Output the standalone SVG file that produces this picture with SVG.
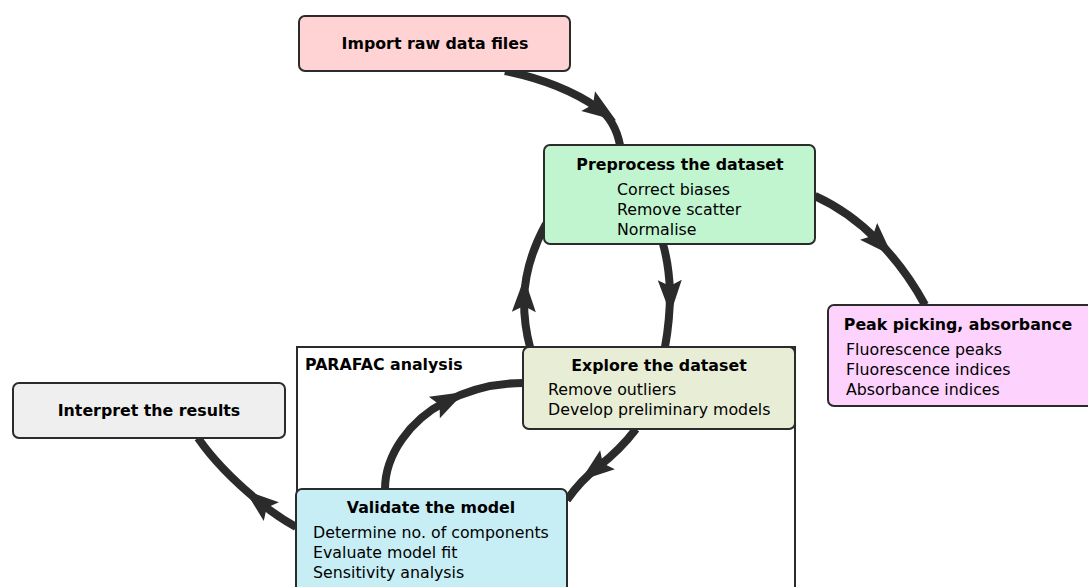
<svg xmlns="http://www.w3.org/2000/svg" width="1088" height="587" viewBox="0 0 1088 587">
<style>
  .box { stroke: #2b2b2b; stroke-width: 2; }
  .title { font-family: "DejaVu Sans", sans-serif; font-size: 15.8px; font-weight: bold; fill: #000; text-anchor: middle; }
  .body { font-family: "DejaVu Sans", sans-serif; font-size: 15.8px; fill: #000; }
  .conn { fill: none; stroke: #2b2b2b; stroke-width: 8; marker-mid: url(#arr); }
</style>
<defs>
  <marker id="arr" markerUnits="userSpaceOnUse" markerWidth="60" markerHeight="60" refX="0" refY="0" orient="auto" overflow="visible" viewBox="-30 -30 60 60">
    <path d="M22,0 L-12,-12 L-6,0 L-12,12 Z" fill="#2b2b2b"/>
  </marker>
</defs>
<rect width="1088" height="587" fill="#fff"/>
<g id="parafac">
  <rect x="297" y="347" width="498" height="250" fill="#fff" stroke="#2b2b2b" stroke-width="2"/>
  <text x="305" y="370" class="title" style="text-anchor:start">PARAFAC analysis</text>
</g>
<g id="connectors">
  <path class="conn" d="M505,71 Q560,82 598,108 Q615,120 620,145"/>
  <path class="conn" d="M815,196 Q850,212 877,240 Q905,268 925,305"/>
  <path class="conn" d="M663,244 Q669,265 670,292 Q670,320 665,347"/>
  <path class="conn" d="M530,347 Q524,325 524,300 Q525,262 546,224"/>
  <path class="conn" d="M636,429 Q620,450 598,467 Q580,481 567,500"/>
  <path class="conn" d="M385,489 C385,455 410,420 445,402 C470,389 495,383 523,383"/>
  <path class="conn" d="M296,527 Q278,517 262,504 Q220,470 198,438"/>
</g>
<g id="import">
  <rect class="box" x="299" y="16" width="271" height="55" rx="6" fill="#ffd3d3"/>
  <text x="435" y="49" class="title">Import raw data files</text>
</g>
<g id="preprocess">
  <rect class="box" x="544" y="145" width="271" height="99" rx="6" fill="#c0f5d0"/>
  <text x="680" y="170" class="title">Preprocess the dataset</text>
  <text x="617" y="195" class="body">Correct biases</text>
  <text x="617" y="215" class="body">Remove scatter</text>
  <text x="617" y="235" class="body">Normalise</text>
</g>
<g id="peak">
  <rect class="box" x="828" y="305" width="272" height="101" rx="6" fill="#fdd2fd"/>
  <text x="958" y="330" class="title">Peak picking, absorbance</text>
  <text x="846" y="355" class="body">Fluorescence peaks</text>
  <text x="846" y="375" class="body">Fluorescence indices</text>
  <text x="846" y="395" class="body">Absorbance indices</text>
</g>
<g id="explore">
  <rect class="box" x="523" y="347" width="272" height="82" rx="6" fill="#e8eed6"/>
  <text x="659" y="371" class="title">Explore the dataset</text>
  <text x="548" y="395" class="body">Remove outliers</text>
  <text x="548" y="415" class="body">Develop preliminary models</text>
</g>
<g id="interpret">
  <rect class="box" x="13" y="383" width="272" height="55" rx="6" fill="#efefef"/>
  <text x="149" y="416" class="title">Interpret the results</text>
</g>
<g id="validate">
  <rect class="box" x="296" y="489" width="271" height="110" rx="6" fill="#c7eef5"/>
  <text x="431" y="513" class="title">Validate the model</text>
  <text x="313" y="538" class="body">Determine no. of components</text>
  <text x="313" y="558" class="body">Evaluate model fit</text>
  <text x="313" y="578" class="body">Sensitivity analysis</text>
</g>
</svg>
